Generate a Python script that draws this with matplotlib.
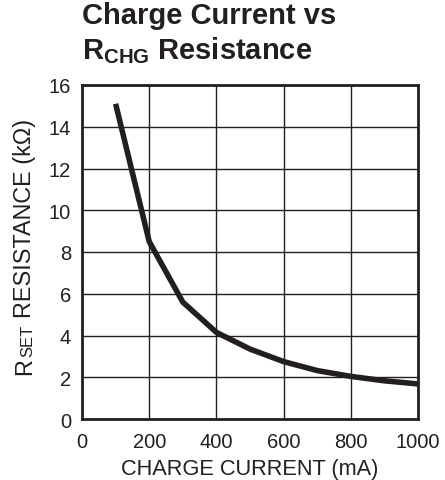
import matplotlib
matplotlib.use("Agg")
import matplotlib.pyplot as plt

current_ma = [100, 200, 300, 400, 500, 600, 700, 800, 900, 1000]
rset_kohm = [15.1, 8.5, 5.6, 4.15, 3.35, 2.75, 2.32, 2.04, 1.83, 1.68]
xticks = [0, 200, 400, 600, 800, 1000]
yticks = [0, 2, 4, 6, 8, 10, 12, 14, 16]

plt.rcParams['font.family'] = ['Liberation Sans', 'DejaVu Sans']
plt.rcParams['mathtext.fontset'] = 'custom'
plt.rcParams['mathtext.rm'] = 'Liberation Sans'
plt.rcParams['mathtext.bf'] = 'Liberation Sans:bold'
plt.rcParams['mathtext.it'] = 'Liberation Sans:italic'

W, H = 445, 481
ink = '#231f20'
fig = plt.figure(figsize=(W/100, H/100), dpi=100)
ax = fig.add_axes([82/W, 1-420/H, 336/W, 334/H])
ax.plot(current_ma, rset_kohm, color=ink, lw=4.0, solid_joinstyle='miter', solid_capstyle='butt')
ax.set_xlim(0, 1000)
ax.set_ylim(0, 16)
ax.set_xticks(xticks)
ax.set_yticks(yticks)
ax.grid(True, color=ink, lw=1.0)
ax.set_axisbelow(True)
for s in ax.spines.values():
    s.set_linewidth(2.0)
    s.set_color(ink)
ax.tick_params(axis='x', length=0, labelsize=14.5, colors=ink, pad=9.5)
ax.tick_params(axis='y', length=0, labelsize=14.5, colors=ink, pad=8)
ax.set_xlabel('CHARGE CURRENT (mA)', fontsize=15.7, color=ink, va='top')
ax.xaxis.set_label_coords(0.5, -(459 - 420) / 334)

r = fig.canvas.get_renderer()

def fy(y):
    return 1 - y / H

# y label built from pieces (larger subscript), pixel coordinates from the top
ysize = 16.8
yl1 = fig.text(31 / W, fy(375), 'R', fontsize=ysize, color=ink, rotation=90,
               rotation_mode='anchor', ha='left', va='baseline')
b1 = yl1.get_window_extent(r)
yl2 = fig.text(32 / W, (b1.y1 + 1) / H, 'SET', fontsize=12, color=ink, rotation=90,
               rotation_mode='anchor', ha='left', va='baseline')
b2 = yl2.get_window_extent(r)
fig.text(31 / W, (b2.y1 + 7) / H, 'RESISTANCE (k\u03a9)', fontsize=ysize, color=ink,
         rotation=90, rotation_mode='anchor', ha='left', va='baseline')

# two-line title as one text (baseline of the last line at y=59 px)
fig.text(82 / W, fy(59), 'Charge Current vs\n' + r'R$_{\mathbf{CHG}}$ Resistance',
         fontsize=21, fontweight='bold', color=ink, va='baseline', ha='left',
         linespacing=1.2)
fig.savefig('out.png', dpi=100)
